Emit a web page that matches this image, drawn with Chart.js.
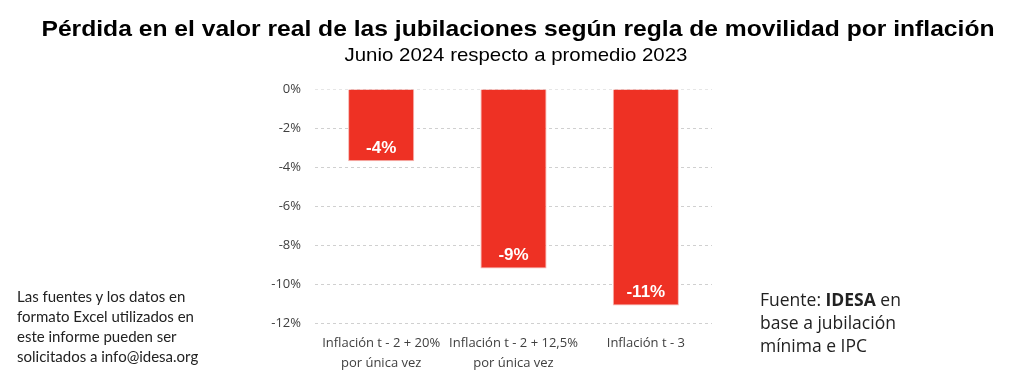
<!DOCTYPE html>
<html>
<head>
<meta charset="utf-8">
<script src="https://cdn.jsdelivr.net/npm/chart.js@4/dist/chart.umd.min.js"></script>
<style>
  html, body { margin:0; padding:0; background:#fff; }
  #wrap { position:relative; width:1024px; height:378px; overflow:hidden; }
  canvas { position:absolute; left:0; top:0; }
  .t1 { position:absolute; left:0; width:1024px; top:17px; text-align:center; font-family:"Liberation Sans", Arial, sans-serif; font-weight:bold; font-size:22px; line-height:24px; color:#000; transform:translateX(6px) scaleX(1.12); transform-origin:512px 0; }
  .t2 { position:absolute; left:0; width:1024px; top:44px; text-align:center; font-family:"Liberation Sans", Arial, sans-serif; font-size:19px; line-height:21px; color:#000; transform:translateX(4px) scaleX(1.075); transform-origin:512px 0; }
  .noteL { position:absolute; left:17px; top:286px; font-family:Lato, sans-serif; font-size:15px; line-height:20px; color:#222; }
  .noteR { position:absolute; left:760px; top:288px; font-family:"Open Sans", sans-serif; font-size:17.5px; line-height:23px; color:#222; }
</style>
</head>
<body>
<div id="wrap">
  <canvas id="c" width="1024" height="378"></canvas>
  <div class="t1">Pérdida en el valor real de las jubilaciones según regla de movilidad por inflación</div>
  <div class="t2">Junio 2024 respecto a promedio 2023</div>
  <div class="noteL">Las fuentes y los datos en<br>formato Excel utilizados en<br>este informe pueden ser<br>solicitados a info@idesa.org</div>
  <div class="noteR">Fuente: <b>IDESA</b> en<br>base a jubilación<br>mínima e IPC</div>
</div>
<script>
const categories = [
  ["Inflación t - 2 + 20%", "por única vez"],
  ["Inflación t - 2 + 12,5%", "por única vez"],
  ["Inflación t - 3"]
];
const values = [-3.7, -9.2, -11.1];
const valueLabels = ["-4%", "-9%", "-11%"];
const yTicks = [0, -2, -4, -6, -8, -10, -12];

const barLabels = {
  id: 'barLabels',
  afterDatasetsDraw(chart) {
    const ctx = chart.ctx;
    const meta = chart.getDatasetMeta(0);
    ctx.save();
    ctx.fillStyle = '#ffffff';
    ctx.font = 'bold 17px "Liberation Sans", Arial, sans-serif';
    ctx.textAlign = 'center';
    ctx.textBaseline = 'middle';
    meta.data.forEach((bar, i) => {
      ctx.fillText(valueLabels[i], bar.x, bar.y - 13);
    });
    ctx.restore();
  }
};

new Chart(document.getElementById('c'), {
  type: 'bar',
  data: {
    labels: categories,
    datasets: [{
      data: values,
      backgroundColor: '#EE3124',
      borderColor: '#F6B8B3',
      borderWidth: 1,
      barPercentage: 0.5,
      categoryPercentage: 1.0
    }]
  },
  options: {
    responsive: false,
    animation: false,
    layout: { padding: { left: 260, right: 312, top: 89, bottom: 2 } },
    plugins: { legend: { display: false }, tooltip: { enabled: false }, title: { display: false } },
    scales: {
      x: {
        afterFit(scale) { scale.height = 53; },
        grid: { display: false, drawTicks: false },
        border: { display: false },
        ticks: {
          color: '#404040',
          font: { family: '"Open Sans", sans-serif', size: 13, lineHeight: 1.5 },
          padding: 11,
          maxRotation: 0
        }
      },
      y: {
        min: -12, max: 0,
        afterFit(scale) { scale.width = 55; },
        afterBuildTicks(scale) { scale.ticks = yTicks.map(v => ({ value: v })); },
        grid: {
          drawTicks: false,
          color: (c) => c.tick && c.tick.value === 0 ? '#e6e6e6' : '#d0d0d0',
        },
        border: { display: false, dash: [3, 3] },
        ticks: {
          color: '#404040',
          font: { family: '"Open Sans", sans-serif', size: 13 },
          padding: 14,
          callback: (v) => v + '%'
        }
      }
    }
  },
  plugins: [barLabels]
});
</script>
</body>
</html>
